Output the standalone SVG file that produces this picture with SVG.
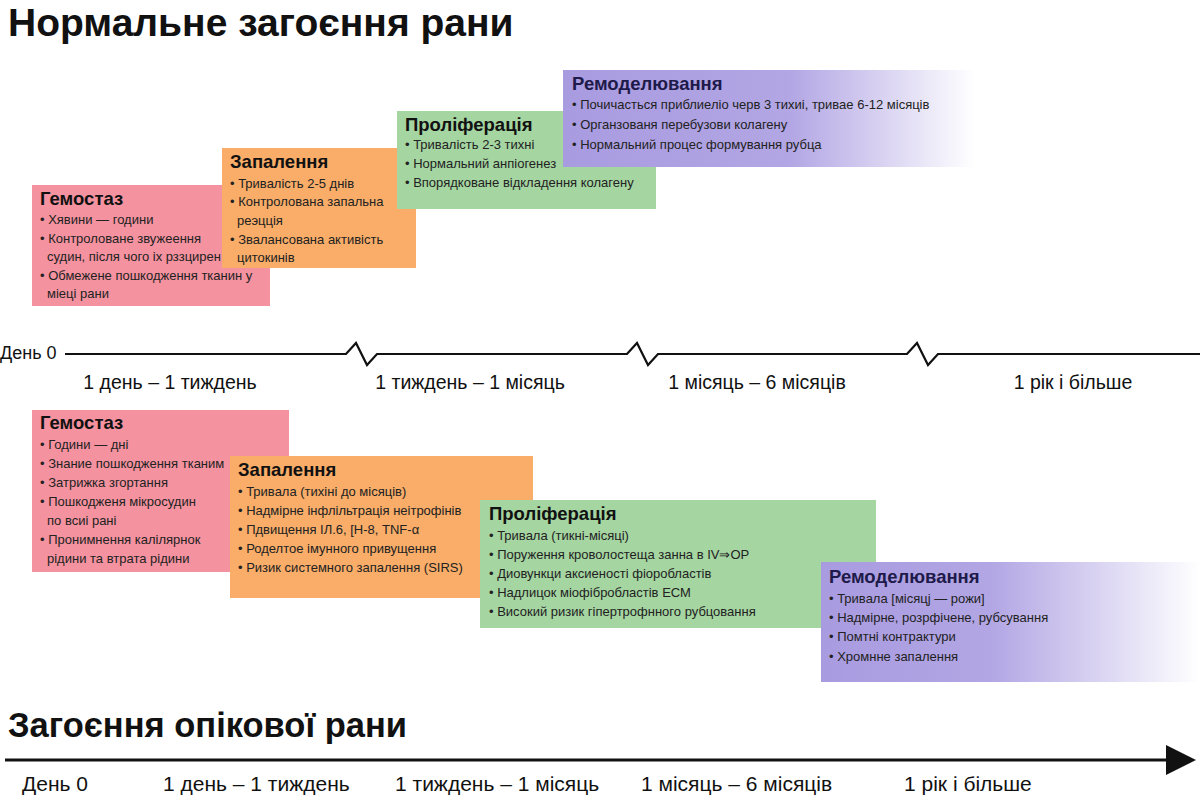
<svg xmlns="http://www.w3.org/2000/svg" width="1200" height="800" viewBox="0 0 1200 800">
<defs>
<linearGradient id="gPurpTop" x1="563" y1="0" x2="975" y2="0" gradientUnits="userSpaceOnUse">
<stop offset="0" stop-color="#a99be0"/><stop offset="0.55" stop-color="#b2a6e4"/><stop offset="1" stop-color="#ffffff"/>
</linearGradient>
<linearGradient id="gPurpBot" x1="821" y1="0" x2="1200" y2="0" gradientUnits="userSpaceOnUse">
<stop offset="0" stop-color="#a99be0"/><stop offset="0.45" stop-color="#b2a6e4"/><stop offset="1" stop-color="#ffffff"/>
</linearGradient>
<style>
text{font-family:"Liberation Sans","Noto Sans",Arial,sans-serif;fill:#1a1a1a}
.h1{font-size:39px;font-weight:bold;fill:#111}
.h2{font-size:34.5px;font-weight:bold;fill:#111}
.t{font-size:18.5px;font-weight:bold;fill:#111}
.tp{font-size:18.5px;font-weight:bold;fill:#1e1a4a}
.b{font-size:13px;fill:#222}
.ax{font-size:19.5px;fill:#111}
.ax0{font-size:18px;fill:#111}
.ax2{font-size:21px;fill:#111}
.pink{fill:#f5929f}
.orange{fill:#f9ad68}
.green{fill:#a5d5a1}
.line{fill:none;stroke:#111;stroke-width:2.2;stroke-linejoin:miter}
</style>
</defs>
<rect width="1200" height="800" fill="#ffffff"/>

<text class="h1" x="8" y="36">Нормальне загоєння рани</text>

<g id="top-hemostasis">
<rect class="pink" x="32" y="185" width="238" height="121"/>
<text class="t" x="40" y="205">Гемостаз</text>
<text class="b" x="40" y="224">• Хявини — години</text>
<text class="b" x="40" y="243">• Контроловане звужеення</text>
<text class="b" x="47" y="261">судин, після чого іх рззцирен,</text>
<text class="b" x="40" y="280">• Обмежене пошкодження тканин у</text>
<text class="b" x="47" y="298">міеці рани</text>
</g>

<g id="top-inflammation">
<rect class="orange" x="222" y="148" width="194" height="120"/>
<text class="t" x="230" y="168">Запалення</text>
<text class="b" x="230" y="188">• Тривалість 2-5 днів</text>
<text class="b" x="230" y="206">• Контролована запальна</text>
<text class="b" x="237" y="225">реэцція</text>
<text class="b" x="230" y="244">• Звалансована активість</text>
<text class="b" x="237" y="262">цитокинів</text>
</g>

<g id="top-proliferation">
<rect class="green" x="397" y="111" width="259" height="98"/>
<text class="t" x="405" y="131">Проліферація</text>
<text class="b" x="405" y="149">• Тривалість 2-3 тихні</text>
<text class="b" x="405" y="168">• Нормальний анпіогенез</text>
<text class="b" x="405" y="187">• Впорядковане відкладення колагену</text>
</g>

<g id="top-remodeling">
<rect x="563" y="70" width="412" height="97" fill="url(#gPurpTop)"/>
<text class="tp" x="572" y="90">Ремоделювання</text>
<text class="b" x="572" y="109">• Почичасться приблиеліо черв 3 тихиі, тривае 6-12 місяців</text>
<text class="b" x="572" y="129">• Органзованя перебузови колагену</text>
<text class="b" x="572" y="149">• Нормальний процес формування рубца</text>
</g>

<g id="connectors">
<path class="line" d="M65 354 H346 L356 343 L367 365 L377 354 H627 L637 343 L648 365 L658 354 H907 L917 343 L928 365 L938 354 H1200"/>
<path d="M5 760 H1168" fill="none" stroke="#111" stroke-width="3"/>
<polygon points="1166,745 1196,760 1166,775" fill="#111"/>
</g>

<g id="top-axis-labels">
<text class="ax0" x="0" y="359">День 0</text>
<text class="ax" x="170" y="389" text-anchor="middle">1 день – 1 тиждень</text>
<text class="ax" x="470" y="389" text-anchor="middle">1 тиждень – 1 місяць</text>
<text class="ax" x="757" y="389" text-anchor="middle">1 місяць – 6 місяців</text>
<text class="ax" x="1073" y="389" text-anchor="middle">1 рік і більше</text>
</g>

<g id="burn-hemostasis">
<rect class="pink" x="32" y="410" width="257" height="162"/>
<text class="t" x="40" y="429">Гемостаз</text>
<text class="b" x="40" y="449">• Години — дні</text>
<text class="b" x="40" y="468">• Знание пошкодження тканим</text>
<text class="b" x="40" y="487">• Затрижка згортання</text>
<text class="b" x="40" y="506">• Пошкодженя мікросудин</text>
<text class="b" x="47" y="525">по всиі рані</text>
<text class="b" x="40" y="544">• Пронимнення калілярнок</text>
<text class="b" x="47" y="563">рідини та втрата рідини</text>
</g>

<g id="burn-inflammation">
<rect class="orange" x="230" y="456" width="303" height="142"/>
<text class="t" x="238" y="476">Запалення</text>
<text class="b" x="238" y="496">• Тривала (тихіні до місяців)</text>
<text class="b" x="238" y="515">• Надмірне інфлільтрація неітрофінів</text>
<text class="b" x="238" y="534">• Пдвищення ІЛ.6, [Н-8, TNF-α</text>
<text class="b" x="238" y="553">• Роделтое імунного привущення</text>
<text class="b" x="238" y="572">• Ризик системного запалення  (SIRS)</text>
</g>

<g id="burn-proliferation">
<rect class="green" x="480" y="500" width="396" height="128"/>
<text class="t" x="489" y="520">Проліферація</text>
<text class="b" x="489" y="540">• Тривала (тикні-місяці)</text>
<text class="b" x="489" y="559">• Поруження кроволостеща занна в IV⇒ОР</text>
<text class="b" x="489" y="578">• Диовункци аксиеності фіоробластів</text>
<text class="b" x="489" y="597">• Надлицок міофібробластів ЕСМ</text>
<text class="b" x="489" y="616">• Високий ризик гіпертрофнного рубцовання</text>
</g>

<g id="burn-remodeling">
<rect x="821" y="562" width="379" height="120" fill="url(#gPurpBot)"/>
<text class="tp" x="829" y="583">Ремоделювання</text>
<text class="b" x="829" y="603">• Тривала [місяцj — рожи]</text>
<text class="b" x="829" y="622">• Надмірне, розрфічене, рубсування</text>
<text class="b" x="829" y="641">• Помтні контрактури</text>
<text class="b" x="829" y="661">• Хромнне запалення</text>
</g>

<text class="h2" x="8" y="737">Загоєння опікової рани</text>

<g id="burn-axis-labels">
<text class="ax2" x="22" y="791">День 0</text>
<text class="ax2" x="163" y="791">1 день – 1 тиждень</text>
<text class="ax2" x="395" y="791">1 тиждень – 1 місяць</text>
<text class="ax2" x="641" y="791">1 місяць – 6 місяців</text>
<text class="ax2" x="904" y="791">1 рік і більше</text>
</g>
</svg>
